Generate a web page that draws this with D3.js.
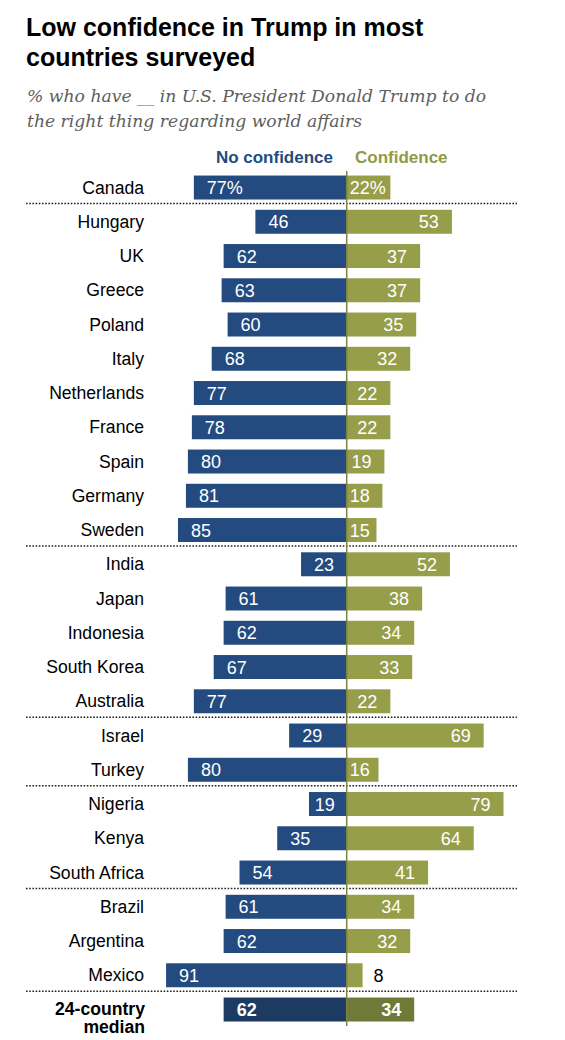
<!DOCTYPE html>
<html>
<head>
<meta charset="utf-8">
<script src="https://cdn.jsdelivr.net/npm/d3@7"></script>
<style>
  body { margin: 0; background: #fff; }
  svg { display: block; }
</style>
</head>
<body>
<script>
// Chart data
var countries = ["Canada", "Hungary", "UK", "Greece", "Poland", "Italy", "Netherlands", "France",
  "Spain", "Germany", "Sweden", "India", "Japan", "Indonesia", "South Korea", "Australia",
  "Israel", "Turkey", "Nigeria", "Kenya", "South Africa", "Brazil", "Argentina", "Mexico"]
var noConfidence = [77, 46, 62, 63, 60, 68, 77, 78, 80, 81, 85, 23, 61, 62, 67, 77, 29, 80, 19, 35, 54, 61, 62, 91]
var confidence = [22, 53, 37, 37, 35, 32, 22, 22, 19, 18, 15, 52, 38, 34, 33, 22, 69, 16, 79, 64, 41, 34, 32, 8]
var medianNo = 62
var medianYes = 34
// dotted rule drawn below these countries
var groupEnds = ["Canada", "Sweden", "Australia", "Turkey", "South Africa", "Mexico"]

var width = 565, height = 1040
var x0 = 346.7   // the zero line in the middle

var svg = d3.select("body").append("svg")
  .attr("width", width)
  .attr("height", height)

// Title and subtitle
var titleLines = ["Low confidence in Trump in most", "countries surveyed"]
svg.selectAll("text.title")
  .data(titleLines)
  .enter()
  .append("text")
    .attr("class", "title")
    .attr("x", 26)
    .attr("y", (d, i) => 36 + i * 30)
    .text((d) => d)
    .style("font-family", "'Liberation Sans', Arial, sans-serif")
    .style("font-weight", "bold")
    .style("font-size", "25px")
    .attr("fill", "#000")

var subLines = ["% who have __ in U.S. President Donald Trump to do", "the right thing regarding world affairs"]
svg.selectAll("text.sub")
  .data(subLines)
  .enter()
  .append("text")
    .attr("class", "sub")
    .attr("x", 27)
    .attr("y", (d, i) => 102 + i * 25)
    .text((d) => d)
    .style("font-family", "'DejaVu Serif', Georgia, serif")
    .style("font-style", "italic")
    .style("font-size", "17.2px")
    .attr("fill", "#5e5e5e")

// Column headers
svg.append("text").attr("x", 333).attr("y", 163)
  .attr("text-anchor", "end")
  .text("No confidence")
  .style("font-family", "'Liberation Sans', Arial, sans-serif")
  .style("font-weight", "bold").style("font-size", "17px").attr("fill", "#234b80")
svg.append("text").attr("x", 355).attr("y", 163)
  .text("Confidence")
  .style("font-family", "'Liberation Sans', Arial, sans-serif")
  .style("font-weight", "bold").style("font-size", "17px").attr("fill", "#8e9a45")

// Scales
var rows = countries.concat(["median"])
var y = d3.scaleBand()
  .domain(rows)
  .range([170.4, 170.4 + rows.length * 34.25])
  .paddingInner(0.3)
  .paddingOuter(0.15)

var xLeft = d3.scaleLinear().domain([0, 100]).range([x0, x0 - 198.5])
var xRight = d3.scaleLinear().domain([0, 100]).range([x0, x0 + 198.5])

var rowData = countries.map((c, i) => ({name: c, no: noConfidence[i], yes: confidence[i], median: false}))
rowData.push({name: "median", no: medianNo, yes: medianYes, median: true})

var bw = y.bandwidth()
var fontVal = "'Liberation Sans', Arial, sans-serif"

// Dotted separators
svg.selectAll("line.sep")
  .data(groupEnds)
  .enter()
  .append("line")
    .attr("class", "sep")
    .attr("x1", 26)
    .attr("x2", 517)
    .attr("y1", (d) => y(d) + bw + 4)
    .attr("y2", (d) => y(d) + bw + 4)
    .attr("stroke", "#222")
    .attr("stroke-width", 1.6)
    .attr("stroke-dasharray", "1.6,1.6")

// Bars
svg.selectAll("rect.no")
  .data(rowData)
  .enter()
  .append("rect")
    .attr("class", "no")
    .attr("x", (d) => xLeft(d.no))
    .attr("y", (d) => y(d.name))
    .attr("width", (d) => x0 - xLeft(d.no))
    .attr("height", bw)
    .attr("fill", (d) => d.median ? "#1c3a62" : "#234b80")

svg.selectAll("rect.yes")
  .data(rowData)
  .enter()
  .append("rect")
    .attr("class", "yes")
    .attr("x", x0)
    .attr("y", (d) => y(d.name))
    .attr("width", (d) => xRight(d.yes) - x0)
    .attr("height", bw)
    .attr("fill", (d) => d.median ? "#6f7a38" : "#969e4a")

// Center line
svg.append("line")
  .attr("x1", x0).attr("x2", x0)
  .attr("y1", 171).attr("y2", 1026)
  .attr("stroke", "#7d8145")
  .attr("stroke-width", 1.5)

// Value labels
function labelText(v, i) { return i === 0 ? v + "%" : "" + v }
function textW(s) { return s.length * 10 + (s.indexOf("%") >= 0 ? 6 : 0) }

svg.selectAll("text.noLabel")
  .data(rowData)
  .enter()
  .append("text")
    .attr("class", "noLabel")
    .attr("x", (d, i) => Math.min(xLeft(d.no) + 13, x0 - 12 - textW(labelText(d.no, i))))
    .attr("y", (d) => y(d.name) + bw / 2 + 6.5)
    .text((d, i) => labelText(d.no, i))
    .style("font-family", fontVal)
    .style("font-size", "18px")
    .style("font-weight", (d) => d.median ? "bold" : "normal")
    .attr("fill", "#fff")

svg.selectAll("text.yesLabel")
  .data(rowData)
  .enter()
  .append("text")
    .attr("class", "yesLabel")
    .attr("text-anchor", (d) => d.yes < 10 ? "start" : "end")
    .attr("x", (d, i) => {
      if (d.yes < 10) { return xRight(d.yes) + 11 }
      return Math.max(xRight(d.yes) - 13, x0 + 3 + textW(labelText(d.yes, i)))
    })
    .attr("y", (d) => y(d.name) + bw / 2 + 6.5)
    .text((d, i) => labelText(d.yes, i))
    .style("font-family", fontVal)
    .style("font-size", "18px")
    .style("font-weight", (d) => d.median ? "bold" : "normal")
    .attr("fill", (d) => d.yes < 10 ? "#000" : "#fff")

// Country names
svg.selectAll("text.country")
  .data(countries)
  .enter()
  .append("text")
    .attr("class", "country")
    .attr("x", 144)
    .attr("y", (d) => y(d) + bw / 2 + 6)
    .attr("text-anchor", "end")
    .text((d) => d)
    .style("font-family", fontVal)
    .style("font-size", "17.6px")
    .attr("fill", "#000")

var medLines = ["24-country", "median"]
svg.selectAll("text.med")
  .data(medLines)
  .enter()
  .append("text")
    .attr("class", "med")
    .attr("x", 145)
    .attr("y", (d, i) => y("median") + bw / 2 + 5 + i * 18)
    .attr("text-anchor", "end")
    .text((d) => d)
    .style("font-family", fontVal)
    .style("font-size", "17.6px")
    .style("font-weight", "bold")
    .attr("fill", "#000")
</script>
</body>
</html>
